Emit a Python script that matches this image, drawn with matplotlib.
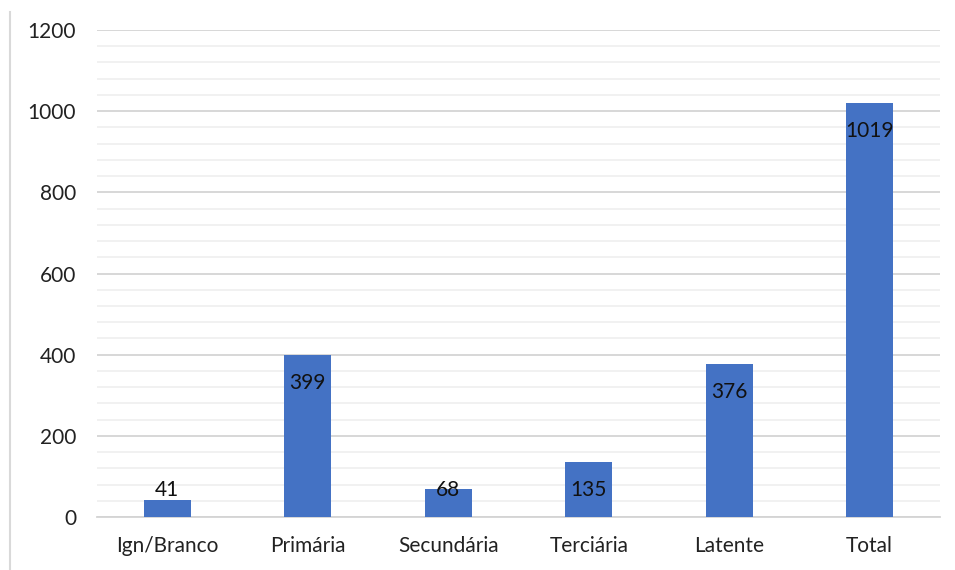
import matplotlib
matplotlib.use("Agg")
import matplotlib.pyplot as plt
from matplotlib.lines import Line2D
from matplotlib.ticker import MultipleLocator

categories = ["Ign/Branco", "Primária", "Secundária", "Terciária", "Latente", "Total"]
values = [41, 399, 68, 135, 376, 1019]

plt.rcParams['font.family'] = ['Lato', 'DejaVu Sans']

fig = plt.figure(figsize=(9.55, 5.7), dpi=100)
ax = fig.add_axes([97/955, 53/570, 843/955, 487/570])

x = list(range(len(categories)))
ax.bar(x, values, width=0.335, color="#4472C4", zorder=3)

ax.set_xlim(-0.5, len(categories) - 0.5)
ax.set_ylim(0, 1200)
ax.yaxis.set_major_locator(MultipleLocator(200))
ax.yaxis.set_minor_locator(MultipleLocator(40))
ax.grid(axis='y', which='major', color="#d4d4d4", linewidth=1.3, zorder=0)
ax.grid(axis='y', which='minor', color="#efefef", linewidth=1.2, zorder=0)
ax.set_axisbelow(True)

for s in ['top', 'right', 'left']:
    ax.spines[s].set_visible(False)
ax.spines['bottom'].set_color("#d4d4d4")
ax.spines['bottom'].set_linewidth(1.3)

ax.set_xticks(x)
ax.set_xticklabels(categories, fontsize=15, color="#222222")
ax.tick_params(axis='x', length=0, pad=14)
ax.tick_params(axis='y', which='both', length=0, pad=15, labelsize=15, labelcolor="#222222")

# Inside-end labels, offset 28 px below bar top, but never lower than 27 px above baseline
fig.canvas.draw()
to_pix = ax.transData
inv = ax.transData.inverted()
for xi, v in zip(x, values):
    top_pix = to_pix.transform((xi, v))[1]
    base_pix = to_pix.transform((xi, 0))[1]
    lab_pix = max(top_pix - 28, base_pix + 27)
    y_lab = inv.transform((0, lab_pix))[1]
    ax.text(xi, y_lab, str(v), ha='center', va='center', fontsize=15,
            color="#111111", zorder=4)

fig.add_artist(Line2D([10/955, 10/955], [0, 1 - 12/570], transform=fig.transFigure,
                      color="#d9d9d9", linewidth=1.5))

fig.savefig("out.png", dpi=100)
